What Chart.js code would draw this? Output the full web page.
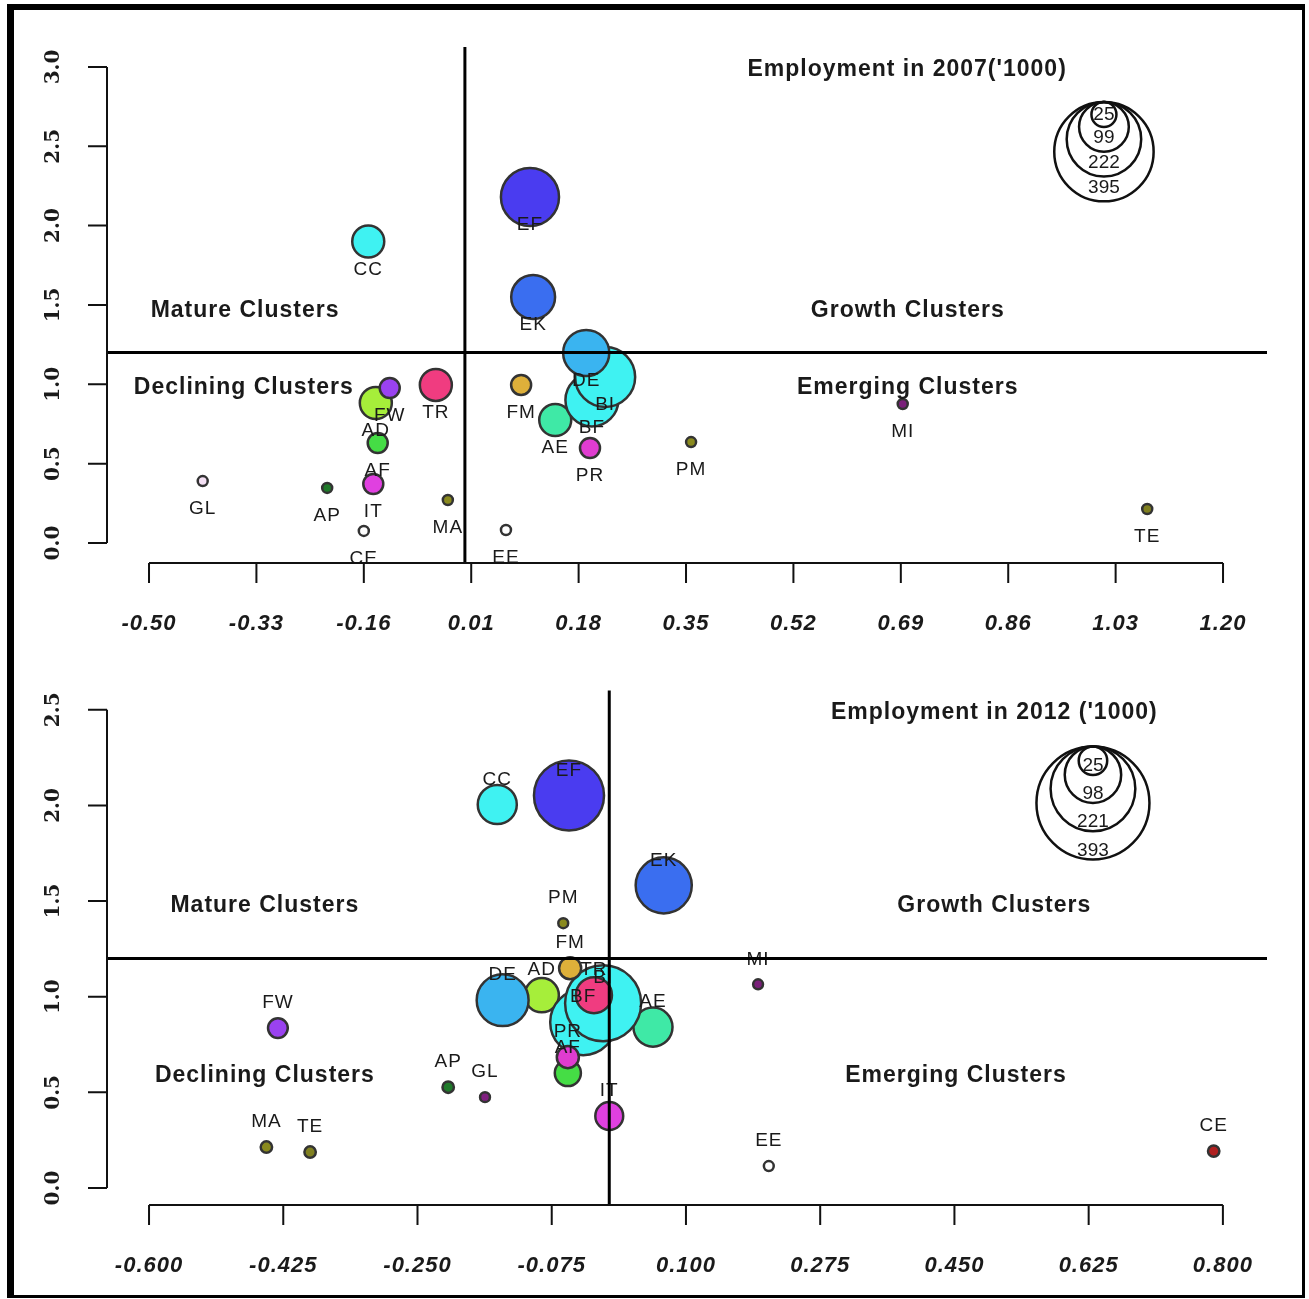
<!DOCTYPE html>
<html><head><meta charset="utf-8">
<script src="https://cdn.jsdelivr.net/npm/chart.js@4/dist/chart.umd.min.js"></script>
<style>
html,body{margin:0;padding:0;background:#fff;}
body{width:1309px;height:1299px;position:relative;overflow:hidden;}
#frame{position:absolute;left:7px;top:4px;width:1298px;height:1294px;box-sizing:border-box;border-left:7px solid #000;border-top:6px solid #000;border-right:3px solid #000;border-bottom:3px solid #000;}
.box{position:absolute;left:0;width:1309px;}
</style></head><body>
<div id="frame"></div>
<div class="box" style="top:0;height:650px"><canvas id="c1"></canvas></div>
<div class="box" style="top:650px;height:649px"><canvas id="c2"></canvas></div>
<script>
// ---------- data ----------
const clusters = ["AD","AE","AF","AP","BF","BI","CC","CE","DE","EE","EF","EK","FM","FW","GL","IT","MA","MI","PM","PR","TE","TR"];

const x2007   = [-0.141, 0.143,-0.138,-0.218, 0.201, 0.222,-0.153,-0.160, 0.192, 0.065, 0.103, 0.108, 0.089,-0.119,-0.415,-0.145,-0.027, 0.693, 0.358, 0.198, 1.080,-0.046];
const y2007   = [ 0.882, 0.775, 0.630, 0.347, 0.901, 1.046, 1.900, 0.076, 1.197, 0.082, 2.180, 1.550, 0.996, 0.977, 0.390, 0.372, 0.271, 0.876, 0.636, 0.599, 0.214, 0.996];
const emp2007 = [41, 41, 16, 4, 112, 144, 41, 4, 85, 4, 135, 77, 16, 16, 4, 16, 4, 4, 4, 16, 4, 41];

const x2012   = [-0.088, 0.057,-0.054,-0.210,-0.034,-0.008,-0.146, 0.788,-0.139, 0.208,-0.0525, 0.071,-0.051,-0.432,-0.162, 0.000,-0.447, 0.194,-0.060,-0.054,-0.390,-0.020];
const y2012   = [ 1.008, 0.841, 0.601, 0.527, 0.867, 0.966, 2.005, 0.193, 0.982, 0.115, 2.052, 1.582, 1.149, 0.836, 0.475, 0.376, 0.214, 1.065, 1.384, 0.684, 0.188, 1.008];
const emp2012 = [36, 47, 21, 4, 134, 178, 47, 4, 83, 3, 151, 97, 15, 12, 3, 24, 4, 3, 3, 15, 4, 40];

const colors2007 = ["#a6ee3a","#3fe9a6","#45dd45","#1f7a2a","#3ff2f2","#3ff2f2","#3ff2f2","#ffffff","#3ab4f0","#ffffff","#4a3cf0","#3a6ef0","#deb03a","#9a42f0","#f4e0f4","#e040e0","#8a8a1e","#7a207a","#8a8a1e","#e03cd0","#808020","#f03c80"];
const colors2012 = ["#a6ee3a","#3fe9a6","#45dd45","#1f7a2a","#3ff2f2","#3ff2f2","#3ff2f2","#b02020","#3ab4f0","#ffffff","#4a3cf0","#3a6ef0","#deb03a","#9a42f0","#802080","#e040e0","#8a8a1e","#7a207a","#8a8a1e","#e03cd0","#808020","#f03c80"];

const xTicks2007 = [-0.50,-0.33,-0.16,0.01,0.18,0.35,0.52,0.69,0.86,1.03,1.20];
const xTickLabels2007 = ["-0.50","-0.33","-0.16","0.01","0.18","0.35","0.52","0.69","0.86","1.03","1.20"];
const yTicks2007 = [0,0.5,1,1.5,2,2.5,3];
const yTickLabels2007 = ["0.0","0.5","1.0","1.5","2.0","2.5","3.0"];

const xTicks2012 = [-0.600,-0.425,-0.250,-0.075,0.100,0.275,0.450,0.625,0.800];
const xTickLabels2012 = ["-0.600","-0.425","-0.250","-0.075","0.100","0.275","0.450","0.625","0.800"];
const yTicks2012 = [0,0.5,1,1.5,2,2.5];
const yTickLabels2012 = ["0.0","0.5","1.0","1.5","2.0","2.5"];

const legend2007 = [25, 99, 222, 395];
const legend2012 = [25, 98, 221, 393];

const quadrantNames = ["Mature Clusters","Growth Clusters","Declining Clusters","Emerging Clusters"];
const titles = ["Employment in 2007('1000)", "Employment in 2012 ('1000)"];
const refX = 0, refY = 1.2;

// ---------- layout ----------
const cfgs = [
  {
    canvas:'c1', x:x2007, y:y2007, emp:emp2007, colors:colors2007, k:2.5,
    xTicks:xTicks2007, xLabels:xTickLabels2007, yTicks:yTicks2007, yLabels:yTickLabels2007,
    xRange:[-0.5665,1.2696], yRange:[-0.126,3.1254],
    padding:{left:107,right:42,top:47,bottom:87},
    labelOffset:28, legend:legend2007, legendAt:[1.0115,2.779], legendLabelUp:14,
    title:titles[0], titleAt:[0.700,2.985],
    quadAt:[[-0.348,1.462],[0.701,1.462],[-0.350,0.980],[0.701,0.980]]
  },
  {
    canvas:'c2', x:x2012, y:y2012, emp:emp2012, colors:colors2012, k:2.85,
    xTicks:xTicks2012, xLabels:xTickLabels2012, yTicks:yTicks2012, yLabels:yTickLabels2012,
    xRange:[-0.6548,0.8575], yRange:[-0.0888,2.6005],
    padding:{left:107,right:42,top:40,bottom:94},
    labelOffset:-25, legend:legend2012, legendAt:[0.6306,2.308], legendLabelUp:9,
    title:titles[1], titleAt:[0.502,2.486],
    quadAt:[[-0.449,1.478],[0.502,1.478],[-0.449,0.585],[0.452,0.585]]
  }
];

const INK = '#1a1a1a';

function overlayPlugin(c) {
  return {
    id:'overlay',
    afterDatasetsDraw(chart) {
      const ctx = chart.ctx, xs = chart.scales.x, ys = chart.scales.y, ca = chart.chartArea;
      ctx.save();
      // point labels
      ctx.fillStyle = INK;
      ctx.font = '19px "Liberation Sans", Arial, sans-serif';
      ctx.letterSpacing = '1px';
      ctx.textAlign = 'center'; ctx.textBaseline = 'middle';
      const meta = chart.getDatasetMeta(0);
      meta.data.forEach((el, i) => {
        ctx.fillText(clusters[i], el.x, el.y + c.labelOffset);
      });
      // reference lines
      ctx.strokeStyle = '#000'; ctx.lineWidth = 3;
      const px0 = xs.getPixelForValue(refX), py0 = ys.getPixelForValue(refY);
      ctx.beginPath(); ctx.moveTo(px0, ca.top); ctx.lineTo(px0, ca.bottom); ctx.stroke();
      ctx.beginPath(); ctx.moveTo(ca.left, py0); ctx.lineTo(ca.right, py0); ctx.stroke();
      // axes (R style)
      ctx.lineWidth = 2; ctx.strokeStyle = '#111';
      const xa = c.xTicks.map(v => xs.getPixelForValue(v));
      ctx.beginPath(); ctx.moveTo(xa[0], ca.bottom); ctx.lineTo(xa[xa.length-1], ca.bottom);
      xa.forEach(p => { ctx.moveTo(p, ca.bottom); ctx.lineTo(p, ca.bottom + 20); });
      ctx.stroke();
      ctx.font = 'italic bold 22px "Liberation Sans", Arial, sans-serif';
      ctx.letterSpacing = '1px';
      ctx.fillStyle = INK;
      xa.forEach((p, i) => ctx.fillText(c.xLabels[i], p, ca.bottom + 61));
      const ya = c.yTicks.map(v => ys.getPixelForValue(v));
      ctx.beginPath(); ctx.moveTo(ca.left, ya[0]); ctx.lineTo(ca.left, ya[ya.length-1]);
      ya.forEach(p => { ctx.moveTo(ca.left, p); ctx.lineTo(ca.left - 19, p); });
      ctx.stroke();
      ctx.font = 'bold 20px "DejaVu Serif", serif';
      ctx.letterSpacing = '0px';
      ya.forEach((p, i) => {
        ctx.save(); ctx.translate(ca.left - 53, p); ctx.rotate(-Math.PI/2);
        ctx.fillText(c.yLabels[i], 0, 0); ctx.restore();
      });
      // title & quadrant labels
      ctx.font = 'bold 23px "Liberation Sans", Arial, sans-serif';
      ctx.letterSpacing = '1px';
      ctx.fillText(c.title, xs.getPixelForValue(c.titleAt[0]), ys.getPixelForValue(c.titleAt[1]));
      quadrantNames.forEach((q, i) => {
        ctx.fillText(q, xs.getPixelForValue(c.quadAt[i][0]), ys.getPixelForValue(c.quadAt[i][1]));
      });
      // size legend (nested circles, top aligned)
      const lx = xs.getPixelForValue(c.legendAt[0]), ly = ys.getPixelForValue(c.legendAt[1]);
      ctx.strokeStyle = '#111'; ctx.lineWidth = 2.5;
      const rs = c.legend.map(v => c.k * Math.sqrt(v));
      for (let i = rs.length - 1; i >= 0; i--) {
        ctx.beginPath(); ctx.arc(lx, ly + rs[i], rs[i], 0, Math.PI*2); ctx.stroke();
      }
      ctx.font = '19px "Liberation Sans", Arial, sans-serif';
      ctx.letterSpacing = '0px';
      rs.forEach((r, i) => {
        const yy = ly + Math.max(r, 2*r - c.legendLabelUp);
        ctx.fillText(String(c.legend[i]), lx, yy);
      });
      ctx.restore();
    }
  };
}

cfgs.forEach(c => {
  new Chart(document.getElementById(c.canvas), {
    type:'bubble',
    data:{
      datasets:[{
        data: clusters.map((n, i) => ({x:c.x[i], y:c.y[i], r:c.k*Math.sqrt(c.emp[i])})),
        backgroundColor: c.colors,
        borderColor:'#333',
        borderWidth:2.5,
        hoverRadius:0
      }]
    },
    options:{
      responsive:true, maintainAspectRatio:false, animation:false,
      events:[],
      layout:{padding:c.padding},
      plugins:{legend:{display:false}, tooltip:{enabled:false}, title:{display:false}},
      scales:{
        x:{type:'linear', min:c.xRange[0], max:c.xRange[1], display:false},
        y:{type:'linear', min:c.yRange[0], max:c.yRange[1], display:false}
      }
    },
    plugins:[overlayPlugin(c)]
  });
});
</script>
</body></html>
